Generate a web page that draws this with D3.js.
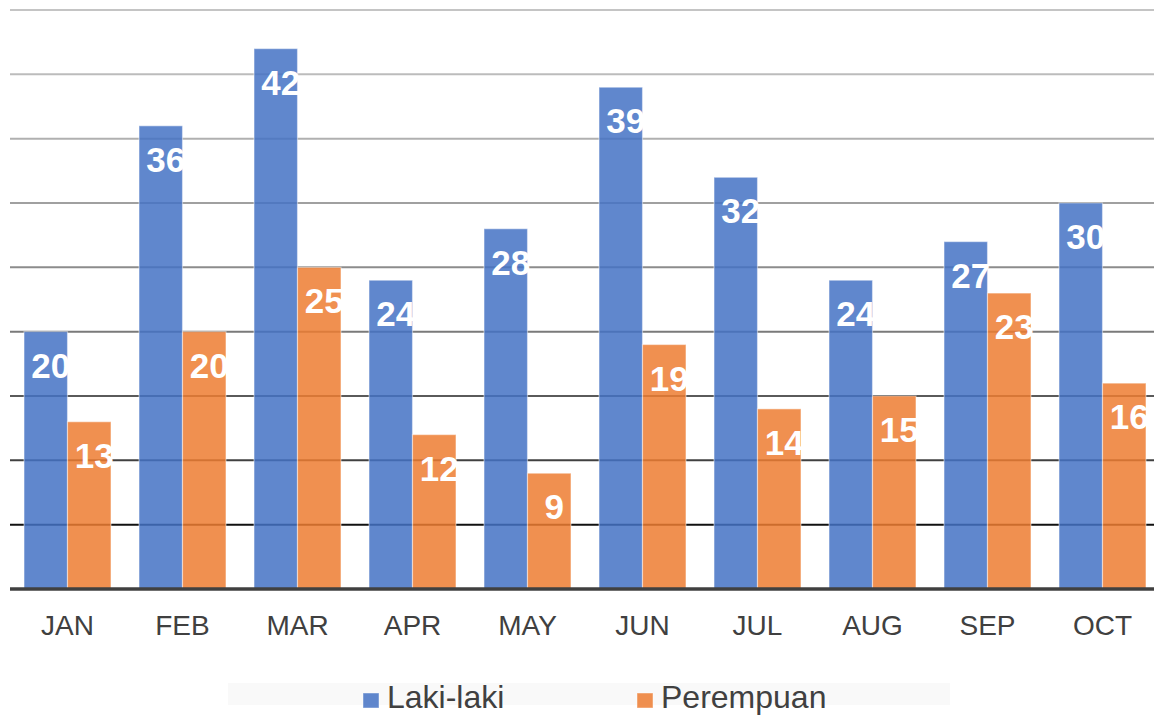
<!DOCTYPE html>
<html>
<head>
<meta charset="utf-8">
<script src="https://cdn.jsdelivr.net/npm/d3@7"></script>
<style>
  body { margin: 0; background: #fff; }
  svg { display: block; font-family: 'Liberation Sans', Arial, sans-serif; }
</style>
</head>
<body>
<svg class="canvas" width="1154" height="715"></svg>
<script>
const months = ['JAN', 'FEB', 'MAR', 'APR', 'MAY', 'JUN', 'JUL', 'AUG', 'SEP', 'OCT'];
const seriesNames = ['Laki-laki', 'Perempuan'];
const lakiLaki = [20, 36, 42, 24, 28, 39, 32, 24, 27, 30];
const perempuan = [13, 20, 25, 12, 9, 19, 14, 15, 23, 16];
const yTicks = [5, 10, 15, 20, 25, 30, 35, 40, 45];

const colors = ['#4472c4', '#ed7d31'];
// gridlines get darker towards the bottom
const gridColors = ['#111', '#404040', '#5a5a5a', '#7a7a7a', '#8c8c8c', '#a0a0a0', '#b0b0b0', '#bcbcbc', '#c4c4c4'];

const data = months.map((m, i) => ({ month: m, values: [lakiLaki[i], perempuan[i]] }));

const svg = d3.select('.canvas');
const plot = { left: 10, right: 1160, top: 10, bottom: 589 };

// scales
const x0 = d3.scaleBand()
  .domain(months)
  .range([plot.left, plot.right])
  .paddingInner(0.2435)
  .paddingOuter(0.12175);

const x1 = d3.scaleBand()
  .domain(seriesNames)
  .range([0, x0.bandwidth()]);

const y = d3.scaleLinear()
  .domain([0, 45])
  .range([plot.bottom, plot.top]);

// gridlines (drawn under the bars, the bars are a bit see-through)
svg.append('g')
  .selectAll('line')
  .data(yTicks)
  .enter()
  .append('line')
  .attr('x1', plot.left)
  .attr('x2', 1154)
  .attr('y1', d => y(d))
  .attr('y2', d => y(d))
  .attr('stroke', (d, i) => gridColors[i])
  .attr('stroke-width', 2);

// bars
const groups = svg.append('g')
  .selectAll('g')
  .data(data)
  .enter()
  .append('g')
  .attr('transform', d => `translate(${x0(d.month)}, 0)`);

groups.selectAll('rect')
  .data(d => d.values.map((v, i) => ({ key: seriesNames[i], value: v, i })))
  .enter()
  .append('rect')
  .attr('x', d => x1(d.key))
  .attr('y', d => y(d.value))
  .attr('width', x1.bandwidth())
  .attr('height', d => y(0) - y(d.value))
  .attr('fill', d => colors[d.i])
  .attr('fill-opacity', 0.85)
  .attr('stroke', '#fff')
  .attr('stroke-opacity', 0.45)
  .attr('stroke-width', 1.2);

// value labels
groups.selectAll('text')
  .data(d => d.values.map((v, i) => ({ key: seriesNames[i], value: v })))
  .enter()
  .append('text')
  .attr('x', d => x1(d.key) + x1.bandwidth() / 2 + 5)
  .attr('y', d => y(d.value) + 46)
  .attr('text-anchor', 'middle')
  .attr('fill', '#fff')
  .attr('font-weight', 'bold')
  .attr('font-size', 35)
  .text(d => d.value);

// baseline
svg.append('line')
  .attr('x1', plot.left)
  .attr('x2', 1154)
  .attr('y1', y(0))
  .attr('y2', y(0))
  .attr('stroke', '#404040')
  .attr('stroke-width', 3.5);

// x axis labels
const xAxisGroup = svg.append('g')
  .attr('transform', `translate(0, ${plot.bottom})`)
  .call(d3.axisBottom(x0).tickSize(0).tickPadding(0));

xAxisGroup.select('.domain').remove();
xAxisGroup.selectAll('text')
  .attr('dy', 0)
  .attr('y', 46)
  .attr('fill', '#404040')
  .attr('font-size', 28)
  .attr('font-family', "'Liberation Sans', Arial, sans-serif");

// legend
const legend = svg.append('g');
legend.append('rect')
  .attr('x', 228)
  .attr('y', 683)
  .attr('width', 722)
  .attr('height', 22)
  .attr('fill', '#f9f9f9');

const legendX = [363, 637];
const items = legend.selectAll('g.item')
  .data(seriesNames)
  .enter()
  .append('g')
  .attr('class', 'item')
  .attr('transform', (d, i) => `translate(${legendX[i]}, 0)`);

items.append('rect')
  .attr('x', 0)
  .attr('y', 693)
  .attr('width', 16)
  .attr('height', 15)
  .attr('fill', (d, i) => colors[i])
  .attr('fill-opacity', 0.85)
  .attr('stroke', '#fff')
  .attr('stroke-opacity', 0.45);

items.append('text')
  .attr('x', 24)
  .attr('y', 708)
  .attr('fill', '#404040')
  .attr('font-size', 32)
  .text(d => d);
</script>
</body>
</html>
